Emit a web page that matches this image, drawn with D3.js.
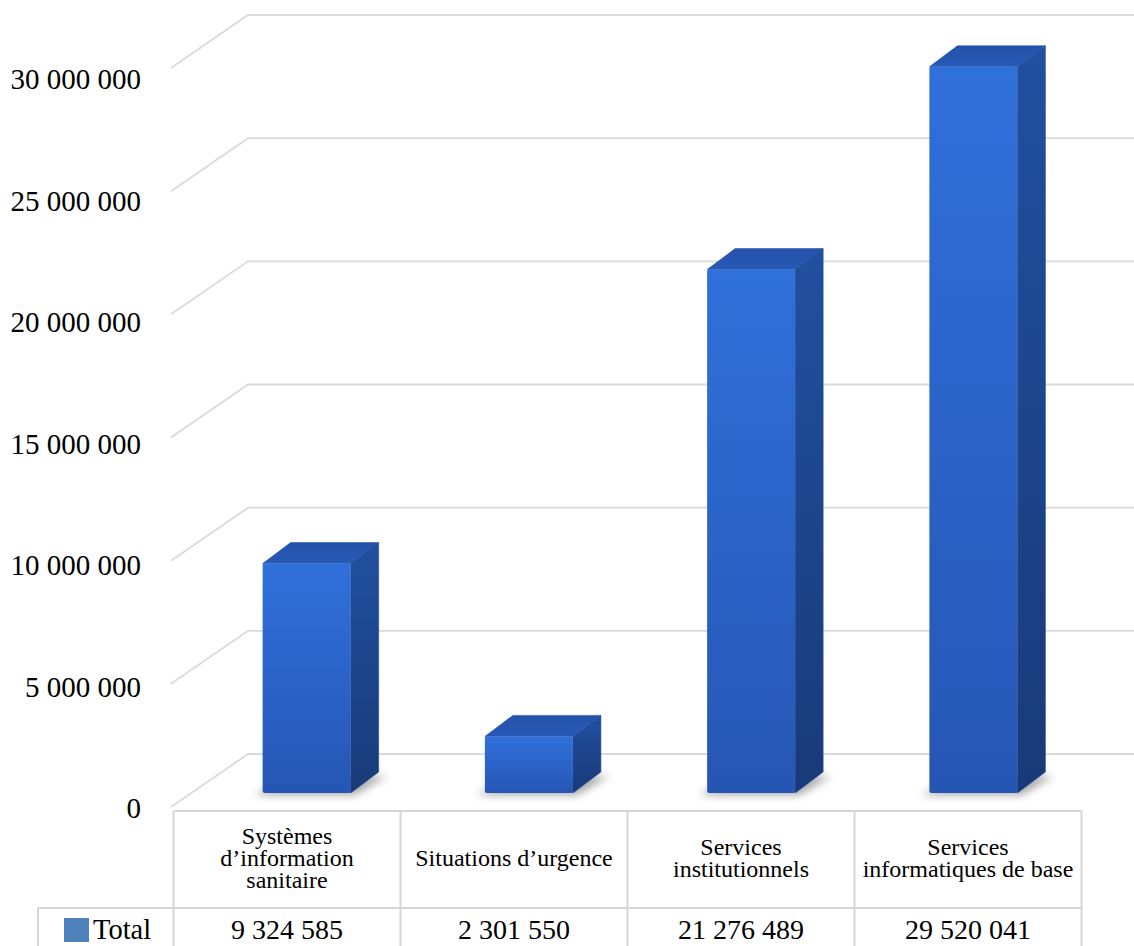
<!DOCTYPE html>
<html>
<head>
<meta charset="utf-8">
<script src="https://cdn.jsdelivr.net/npm/d3@7"></script>
<style>
html,body{margin:0;padding:0;background:#fff;}
svg{display:block;}
</style>
</head>
<body>
<script>
// ---- data ----
const categories = ["Systèmes d’information sanitaire", "Situations d’urgence", "Services institutionnels", "Services informatiques de base"];
const headerLines = [["Systèmes", "d’information", "sanitaire"], ["Situations d’urgence"], ["Services", "institutionnels"], ["Services", "informatiques de base"]];
const totals = [9324585, 2301550, 21276489, 29520041];
const yTicks = [0, 5000000, 10000000, 15000000, 20000000, 25000000, 30000000];
const seriesName = "Total";

const W = 1134, H = 946;
const FONT = "'Liberation Serif'";
const svg = d3.select("body").append("svg").attr("width", W).attr("height", H);
const defs = svg.append("defs");

const fmt = d3.formatLocale({decimal: ",", thousands: "\u00a0", grouping: [3], currency: ["", ""]}).format(",d");

// scales
const yMax = 30000000;
const yBar = d3.scaleLinear().domain([0, yMax]).range([793, 55]);     // bar front plane
const yBack = d3.scaleLinear().domain([0, yMax]).range([754, 15]);    // back wall
const yFront = d3.scaleLinear().domain([0, yMax]).range([807, 68]);   // front edge
const yLabel = d3.scaleLinear().domain([0, yMax]).range([808, 79]);   // tick labels
const xBar = d3.scaleBand().domain(categories).range([195.5, 1084.5]);
const xCol = d3.scaleBand().domain(categories).range([173.5, 1081.5]);
const xFrontEdge = 171, xBackEdge = 248, xRightEdge = 1160;
const barW = 88, dX = 28, dY = -21;

// gradients
function lin(id, stops, x2, y2) {
  const g = defs.append("linearGradient").attr("id", id).attr("x1", 0).attr("y1", 0).attr("x2", x2).attr("y2", y2);
  stops.forEach(s => g.append("stop").attr("offset", s[0]).attr("stop-color", s[1]));
}
lin("gFront", [[0, "#3070DA"], [0.5, "#2B63C8"], [1, "#2656B4"]], 0, 1);
lin("gSide", [[0, "#21509F"], [1, "#193A78"]], 0, 1);
lin("gTop", [[0, "#2452A9"], [1, "#2759B6"]], 0, 1);
const blur = defs.append("filter").attr("id", "blur").attr("x", "-50%").attr("y", "-50%").attr("width", "200%").attr("height", "200%");
blur.append("feGaussianBlur").attr("stdDeviation", 4);

// gridlines
const grid = svg.append("g");
grid.selectAll("path").data(yTicks).join("path")
  .attr("d", v => `M${xFrontEdge},${yFront(v)}L${xBackEdge},${yBack(v)}L${xRightEdge},${yBack(v)}`)
  .attr("fill", "none").attr("stroke", "#dadada").attr("stroke-width", 1.8);

// y tick labels
svg.append("g").selectAll("text").data(yTicks).join("text")
  .style("font-family", FONT)
  .attr("x", 141).attr("y", v => yLabel(v)).attr("dy", "0.35em")
  .attr("text-anchor", "end").attr("font-size", 29).attr("fill", "#000")
  .text(v => fmt(v));

// bars
const bars = svg.append("g").selectAll("g").data(categories).join("g");
bars.each(function(c, i) {
  const g = d3.select(this);
  const xl = xBar(c) + xBar.bandwidth() / 2 - barW / 2, xr = xl + barW;
  const yt = yBar(totals[i]), yb = yBar(0);
  g.append("path")
    .attr("d", `M${xl - 8},${yb + 2}L${xr + 4},${yb + 2}L${xr + dX + 8},${yb + dY + 4}L${xl + dX},${yb + dY + 4}Z`)
    .attr("fill", "#000").attr("opacity", 0.35).attr("filter", "url(#blur)");
  g.append("path")
    .attr("d", `M${xr},${yt}L${xr + dX},${yt + dY}L${xr + dX},${yb + dY}L${xr},${yb}Z`)
    .attr("fill", "url(#gSide)").attr("stroke", "#1d4588").attr("stroke-width", 0.6).attr("stroke-linejoin", "round");
  g.append("path")
    .attr("d", `M${xl},${yt}L${xl + dX},${yt + dY}L${xr + dX},${yt + dY}L${xr},${yt}Z`)
    .attr("fill", "url(#gTop)").attr("stroke", "#2552a8").attr("stroke-width", 0.6).attr("stroke-linejoin", "round");
  g.append("rect")
    .attr("x", xl).attr("y", yt).attr("width", barW).attr("height", yb - yt)
    .attr("rx", 2).attr("fill", "url(#gFront)");
});

// data table
const tbl = svg.append("g");
const rowTop = 811, rowMid = 908, rowBot = 952;
const lineCol = "#d6d6d6", lw = 2;
const bounds = categories.map(c => xCol(c)).concat([xCol.range()[1]]);
tbl.append("line").attr("x1", bounds[0]).attr("x2", bounds[4]).attr("y1", rowTop).attr("y2", rowTop);
tbl.append("line").attr("x1", 38).attr("x2", bounds[4]).attr("y1", rowMid).attr("y2", rowMid);
tbl.append("line").attr("x1", 38).attr("x2", bounds[4]).attr("y1", rowBot).attr("y2", rowBot);
tbl.selectAll("line.v").data(bounds).join("line").attr("class", "v")
  .attr("x1", d => d).attr("x2", d => d).attr("y1", rowTop).attr("y2", rowBot);
tbl.append("line").attr("x1", 38).attr("x2", 38).attr("y1", rowMid).attr("y2", rowBot);
tbl.selectAll("line").attr("stroke", lineCol).attr("stroke-width", lw);

// header text
const lh = 22;
tbl.selectAll("text.h").data(categories).join("text").attr("class", "h")
  .style("font-family", FONT)
  .attr("text-anchor", "middle").attr("font-size", 24).attr("fill", "#000")
  .each(function(c, i) {
    const lines = headerLines[i];
    const t = d3.select(this);
    lines.forEach((ln, k) => {
      t.append("tspan").attr("x", xCol(c) + xCol.bandwidth() / 2)
        .attr("y", 866 + (k - (lines.length - 1) / 2) * lh).text(ln);
    });
  });

// values row
tbl.selectAll("text.v").data(categories).join("text").attr("class", "v")
  .style("font-family", FONT)
  .attr("x", c => xCol(c) + xCol.bandwidth() / 2).attr("y", 939)
  .attr("text-anchor", "middle").attr("font-size", 28).attr("fill", "#000")
  .text((c, i) => fmt(totals[i]));

// legend key
tbl.append("rect").attr("x", 64).attr("y", 918).attr("width", 25).attr("height", 24).attr("fill", "#4F81BD");
tbl.append("text").style("font-family", FONT)
  .attr("x", 93).attr("y", 939).attr("font-size", 28.5).attr("fill", "#000").text(seriesName);
</script>
</body>
</html>
